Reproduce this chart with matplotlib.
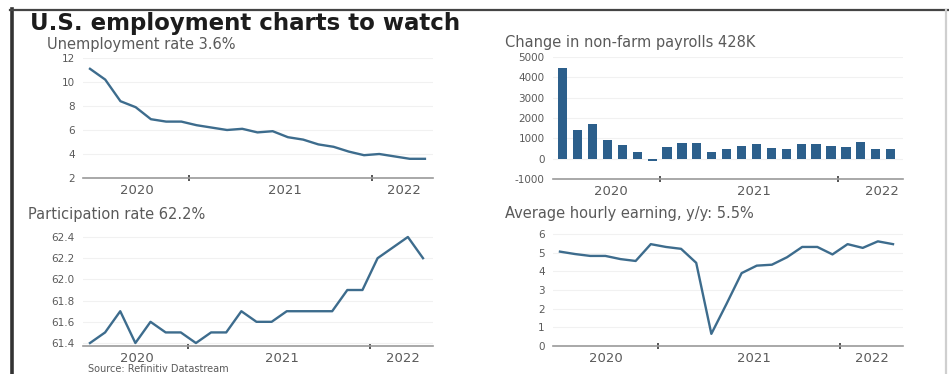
import matplotlib
matplotlib.use("Agg")
import matplotlib.pyplot as plt
from matplotlib.lines import Line2D

# monthly data, Jun 2020 .. Apr 2022
unemployment = [11.1, 10.2, 8.4, 7.9, 6.9, 6.7, 6.7, 6.4, 6.2, 6.0, 6.1, 5.8,
                5.9, 5.4, 5.2, 4.8, 4.6, 4.2, 3.9, 4.0, 3.8, 3.6, 3.6]
payrolls = [4480, 1420, 1710, 930, 680, 330, -100, 550, 770, 770, 330, 500,
            600, 720, 520, 460, 720, 700, 640, 550, 800, 460, 460]
participation = [61.4, 61.5, 61.7, 61.4, 61.6, 61.5, 61.5, 61.4, 61.5, 61.5,
                 61.7, 61.6, 61.6, 61.7, 61.7, 61.7, 61.7, 61.9, 61.9, 62.2,
                 62.3, 62.4, 62.2]
hourly_earnings = [5.05, 4.92, 4.82, 4.82, 4.65, 4.55, 5.45, 5.3, 5.2, 4.45,
                   0.65, 2.25, 3.9, 4.3, 4.35, 4.75, 5.3, 5.3, 4.9, 5.45, 5.25,
                   5.6, 5.45]
years = ["2020", "2021", "2022"]
year_breaks = [6.5, 18.5]

title = "U.S. employment charts to watch"
subtitles = ["Unemployment rate 3.6%", "Change in non-farm payrolls 428K",
             "Participation rate 62.2%", "Average hourly earning, y/y: 5.5%"]
source = "Source: Refinitiv Datastream"

W, H = 949, 374
LINE = "#3d6c8d"
BAR = "#2c5f8b"
GREY = "#5a5a5a"

fig = plt.figure(figsize=(W / 100, H / 100), dpi=100)
fig.patch.set_facecolor("white")


def px_axes(left, top, right, bottom):
    return fig.add_axes([left / W, 1 - bottom / H, (right - left) / W, (bottom - top) / H])


def style(ax, xlim, ylim, yticks, label_pos, fmt="{:g}"):
    ax.set_xlim(*xlim)
    ax.set_ylim(*ylim)
    for s in ("top", "right", "left"):
        ax.spines[s].set_visible(False)
    ax.spines["bottom"].set_color("#9a9a9a")
    ax.spines["bottom"].set_linewidth(1.2)
    ax.set_yticks(yticks)
    ax.set_yticklabels([fmt.format(v) for v in yticks])
    ax.tick_params(axis="y", length=0, pad=6, labelsize=7.5, labelcolor=GREY)
    ax.grid(axis="y", color="#f1f1f1", lw=0.8)
    ax.set_axisbelow(True)
    ax.set_xticks(year_breaks)
    ax.set_xticklabels([])
    ax.tick_params(axis="x", which="major", direction="inout", length=5,
                   width=1.4, color="#555555")
    ax.set_xticks(label_pos, minor=True)
    ax.set_xticklabels(years, minor=True)
    ax.tick_params(axis="x", which="minor", length=0, pad=4, labelsize=9.5,
                   labelcolor=GREY)


x = list(range(len(unemployment)))

ax1 = px_axes(83, 58, 433, 178)
ax1.plot(x, unemployment, color=LINE, lw=1.7)
style(ax1, (-0.46, 22.53), (2, 12), [2, 4, 6, 8, 10, 12], [3.1, 12.8, 20.6])

ax2 = px_axes(553, 57, 903, 179)
ax2.bar(x, payrolls, width=0.62, color=BAR)
style(ax2, (-0.65, 22.83), (-1000, 5000), list(range(-1000, 5001, 1000)),
      [3.2, 12.8, 21.4])

ax3 = px_axes(83, 232, 433, 346)
ax3.plot(x, participation, color=LINE, lw=1.7)
style(ax3, (-0.46, 22.66), (61.372, 62.447), [61.4, 61.6, 61.8, 62.0, 62.2, 62.4],
      [3.1, 12.7, 20.7], fmt="{:.1f}")

ax4 = px_axes(553, 232, 903, 346)
ax4.plot(x, hourly_earnings, color=LINE, lw=1.7)
style(ax4, (-0.46, 22.66), (0, 6.1), [0, 1, 2, 3, 4, 5, 6], [3.0, 12.8, 20.6])

# headings
fig.text(30 / W, 1 - 30 / H, title, fontsize=16.5, fontweight="bold",
         color="#1c1c1c", va="baseline")
for (px, py), s in zip([(47, 44), (505, 43), (28, 215), (505, 214)], subtitles):
    fig.text(px / W, 1 - py / H, s, fontsize=10.5, color=GREY, va="center")
fig.text(88 / W, 1 - 373.5 / H, source, fontsize=7, color=GREY, va="bottom")

# outer frame
fig.add_artist(Line2D([11.5 / W, 11.5 / W], [0, 1 - 9 / H], color="#333333",
                      lw=2.6, transform=fig.transFigure))
fig.add_artist(Line2D([10 / W, 1], [1 - 9.5 / H, 1 - 9.5 / H], color="#444444",
                      lw=1.6, transform=fig.transFigure))
fig.add_artist(Line2D([946 / W, 946 / W], [0, 1 - 10 / H], color="#cfcfcf",
                      lw=1.6, transform=fig.transFigure))

fig.savefig("out.png", dpi=100)
